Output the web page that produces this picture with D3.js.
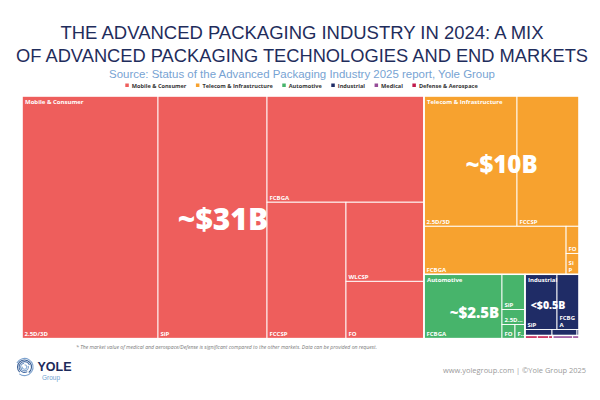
<!DOCTYPE html>
<html>
<head>
<meta charset="utf-8">
<script src="https://cdn.jsdelivr.net/npm/d3@7"></script>
<style>
  body { margin: 0; background: #fff; }
  svg { display: block; font-family: "Open Sans", sans-serif; }
</style>
</head>
<body>
<div id="chart"></div>
<script>
// ---- data ----
var markets = ["Mobile & Consumer", "Telecom & Infrastructure", "Automotive", "Industrial", "Medical", "Defense & Aerospace"];
var marketTotals = ["~$31B", "~$10B", "~$2.5B", "<$0.5B", "", ""];
var marketColors = ["#ee5e5c", "#f7a22f", "#47b46b", "#1f2c66", "#954c98", "#c21a4c"];

// technology split per market (relative cell areas)
var mobileTech = ["2.5D/3D", "SiP", "FCBGA", "FCCSP", "WLCSP", "FO"];
var mobileValues = [329.1, 263.8, 166.4, 107.4, 61.6, 44.5];
var telecomTech = ["2.5D/3D", "FCCSP", "FCBGA", "FO", "SiP"];
var telecomValues = [120.9, 80.6, 68.2, 3.5, 2.7];
var autoTech = ["FCBGA", "SiP", "2.5D/3D", "FO", "FCCSP"];
var autoValues = [49.9, 8.05, 3.45, 1.82, 1.4];
var industrialTech = ["SiP", "FCBGA", "FCCSP", "WLCSP", "FO"];
var industrialValues = [17.6, 12.1, 1.62, 1.5, 0.12];
var medicalTech = ["FCBGA", "SiP"];
var medicalValues = [0.6, 0.19];
var defenseTech = ["FCBGA", "SiP", "FO"];
var defenseValues = [0.37, 0.34, 0.12];

// how the cells are grouped into rows (indices into the arrays above)
var marketPlan = [0, [1, [2, [3, [5, 4]]]]];
var mobilePlan = [0, 1, [2, [3, [4, 5]]]];
var telecomPlan = [[0, 1], [2, [3, 4]]];
var autoPlan = [0, [1, 2, [3, 4]]];
var industrialPlan = [[0, 1], [2, 3, 4]];
var medicalPlan = [0, 1];
var defensePlan = [0, 1, 2];

var techNames = [mobileTech, telecomTech, autoTech, industrialTech, medicalTech, defenseTech];
var techValues = [mobileValues, telecomValues, autoValues, industrialValues, medicalValues, defenseValues];
var techPlans = [mobilePlan, telecomPlan, autoPlan, industrialPlan, medicalPlan, defensePlan];

// ---- styles ----
var totalSizes = [30, 24, 15, 10.5];
var totalShift = [[0, 2], [0, -21], [0, 6], [-4, 0]];

var width = 600, height = 400;
var map = { left: 22, top: 96, width: 557, height: 242.5 };

var svg = d3.select("#chart").append("svg")
    .attr("width", width)
    .attr("height", height);

// titles
svg.append("text")
    .attr("x", 302).attr("y", 38.5)
    .attr("text-anchor", "middle")
    .attr("fill", "#1f2d5c")
    .style("font-family", "'Liberation Sans', sans-serif")
    .style("font-size", "18px")
    .attr("textLength", 483).attr("lengthAdjust", "spacingAndGlyphs")
    .text("THE ADVANCED PACKAGING INDUSTRY IN 2024: A MIX");
svg.append("text")
    .attr("x", 302).attr("y", 61.5)
    .attr("text-anchor", "middle")
    .attr("fill", "#1f2d5c")
    .style("font-family", "'Liberation Sans', sans-serif")
    .style("font-size", "18px")
    .attr("textLength", 572).attr("lengthAdjust", "spacingAndGlyphs")
    .text("OF ADVANCED PACKAGING TECHNOLOGIES AND END MARKETS");
svg.append("text")
    .attr("x", 302).attr("y", 77.5)
    .attr("text-anchor", "middle")
    .attr("fill", "#77a3d3")
    .style("font-family", "'Liberation Sans', sans-serif")
    .style("font-size", "11.5px")
    .attr("textLength", 386).attr("lengthAdjust", "spacingAndGlyphs")
    .text("Source: Status of the Advanced Packaging Industry 2025 report, Yole Group");

// legend
var legend = svg.append("g");
var lx = 0;
markets.forEach(function (m, i) {
    var item = legend.append("g").attr("transform", "translate(" + lx + ",0)");
    item.append("rect")
        .attr("x", 0).attr("y", -4).attr("width", 3.5).attr("height", 3.5)
        .attr("fill", marketColors[i]);
    var t = item.append("text")
        .attr("x", 6.5).attr("y", 0)
        .attr("fill", "#333")
        .style("font-size", "5.6px")
        .style("font-weight", 700)
        .text(m);
    lx += 6.5 + t.node().getComputedTextLength() + 9.5;
});
lx -= 9.5;
legend.attr("transform", "translate(" + (301.5 - lx / 2) + ",87.5)");

// ---- treemap ----
function build(plan, leaf) {
    if (Array.isArray(plan)) {
        return { group: true, children: plan.map(function (p) { return build(p, leaf); }) };
    }
    return leaf(plan);
}

var rootData = build(marketPlan, function (m) {
    var node = build(techPlans[m], function (t) {
        return { market: m, tech: techNames[m][t], value: techValues[m][t] };
    });
    node.group = false;
    node.market = m;
    return node;
});

// groups alternate direction with their parent, markets follow their own shape
function tile(node, x0, y0, x1, y1) {
    var dice;
    if (node.data.group && node.parent) dice = !node.parent.dice;
    else dice = (x1 - x0) >= (y1 - y0);
    node.dice = dice;
    (dice ? d3.treemapDice : d3.treemapSlice)(node, x0, y0, x1, y1);
}

var root = d3.hierarchy(rootData)
    .sum(function (d) { return d.children ? 0 : d.value; });

d3.treemap()
    .size([map.width, map.height])
    .tile(tile)(root);

var plot = svg.append("g")
    .attr("transform", "translate(" + map.left + "," + map.top + ")");

var leaves = root.leaves();

plot.selectAll("rect.cell")
    .data(leaves)
    .join("rect")
    .attr("class", "cell")
    .attr("x", function (d) { return d.x0; })
    .attr("y", function (d) { return d.y0; })
    .attr("width", function (d) { return d.x1 - d.x0; })
    .attr("height", function (d) { return d.y1 - d.y0; })
    .attr("fill", function (d) { return marketColors[d.data.market]; })
    .attr("stroke", "#fff")
    .attr("stroke-width", 0.9);

var marketNodes = root.descendants().filter(function (d) { return d.data.group === false; });

plot.selectAll("rect.market")
    .data(marketNodes)
    .join("rect")
    .attr("class", "market")
    .attr("x", function (d) { return d.x0; })
    .attr("y", function (d) { return d.y0; })
    .attr("width", function (d) { return d.x1 - d.x0; })
    .attr("height", function (d) { return d.y1 - d.y0; })
    .attr("fill", "none")
    .attr("stroke", "#fff")
    .attr("stroke-width", 1.3);

// tech labels (bottom left), wrapped or cut when they do not fit
function fitLabel(text, d) {
    var room = d.x1 - d.x0 - 4.5;
    var h = d.y1 - d.y0;
    var name = d.data.tech;
    var node = text.node();
    text.text(name);
    if (node.getComputedTextLength() <= room) return;
    if (h >= 18) {
        var lines = [], cur = "";
        name.split("").forEach(function (ch) {
            text.text(cur + ch);
            if (node.getComputedTextLength() > room && cur) {
                lines.push(cur);
                cur = ch;
            } else {
                cur = cur + ch;
            }
        });
        lines.push(cur);
        text.text(null);
        lines.forEach(function (l, i) {
            text.append("tspan")
                .attr("x", d.x0 + 2.5)
                .attr("dy", i ? 7 : -(lines.length - 1) * 7)
                .text(l);
        });
        return;
    }
    var n = name.length;
    while (n > 1) {
        n--;
        text.text(name.slice(0, n) + "\u2026");
        if (node.getComputedTextLength() <= room) break;
    }
}

plot.selectAll("text.tech")
    .data(leaves.filter(function (d) { return d.x1 - d.x0 >= 8 && d.y1 - d.y0 >= 10; }))
    .join("text")
    .attr("class", "tech")
    .attr("x", function (d) { return d.x0 + 2.5; })
    .attr("y", function (d) { return d.y1 - 2.5; })
    .attr("fill", "#fff")
    .style("font-size", "6px")
    .style("font-weight", 700)
    .each(function (d) { fitLabel(d3.select(this), d); });

// market names (top left)
plot.selectAll("text.marketName")
    .data(marketNodes.filter(function (d) { return d.x1 - d.x0 >= 30 && d.y1 - d.y0 >= 20; }))
    .join("text")
    .attr("class", "marketName")
    .attr("x", function (d) { return d.x0 + 3; })
    .attr("y", function (d) { return d.y0 + 7.5; })
    .attr("fill", "#fff")
    .style("font-size", "6px")
    .style("font-weight", 700)
    .text(function (d) { return markets[d.data.market]; });

// market totals
plot.selectAll("text.total")
    .data(marketNodes.filter(function (d) { return marketTotals[d.data.market]; }))
    .join("text")
    .attr("class", "total")
    .attr("text-anchor", "middle")
    .attr("x", function (d) { return (d.x0 + d.x1) / 2 + totalShift[d.data.market][0]; })
    .attr("y", function (d) {
        var s = totalSizes[d.data.market];
        return (d.y0 + d.y1) / 2 + totalShift[d.data.market][1] + s * 0.36;
    })
    .attr("fill", "#fff")
    .style("font-size", function (d) { return totalSizes[d.data.market] + "px"; })
    .style("font-weight", 800)
    .text(function (d) { return marketTotals[d.data.market]; });

// footnote
svg.append("text")
    .attr("x", 76).attr("y", 348.5)
    .attr("fill", "#777")
    .style("font-size", "4.4px")
    .style("font-style", "italic")
    .attr("textLength", 301).attr("lengthAdjust", "spacingAndGlyphs")
    .text("* The market value of medical and aerospace/Defense is significant compared to the other markets. Data can be provided on request.");

// logo
var logo = svg.append("g").attr("transform", "translate(24.5,367)");
var ringRadius = [2.2, 3.8, 5.4, 7, 8.6];
var ringColor = ["#8fb2d8", "#6d93c2", "#4c72a8", "#3a5f95", "#7ea3cf"];
ringRadius.forEach(function (r, i) {
    var a0 = i * 1.3;
    logo.append("path")
        .attr("d", d3.arc().innerRadius(r - 0.55).outerRadius(r + 0.55)
            .startAngle(a0).endAngle(a0 + Math.PI * 1.55)())
        .attr("fill", ringColor[i]);
});
svg.append("text")
    .attr("x", 37.5).attr("y", 371)
    .attr("fill", "#1d2a5a")
    .style("font-family", "'Liberation Sans', sans-serif")
    .style("font-size", "12.5px")
    .style("font-weight", 700)
    .text("YOLE");
svg.append("text")
    .attr("x", 42).attr("y", 380)
    .attr("fill", "#6f9fd0")
    .style("font-family", "'Liberation Sans', sans-serif")
    .style("font-size", "6.5px")
    .text("Group");

// footer
svg.append("text")
    .attr("x", 586).attr("y", 372.5)
    .attr("text-anchor", "end")
    .attr("fill", "#9a9a9a")
    .style("font-size", "7.5px")
    .attr("textLength", 143).attr("lengthAdjust", "spacingAndGlyphs")
    .text("www.yolegroup.com | \u00a9Yole Group 2025");
</script>
</body>
</html>
